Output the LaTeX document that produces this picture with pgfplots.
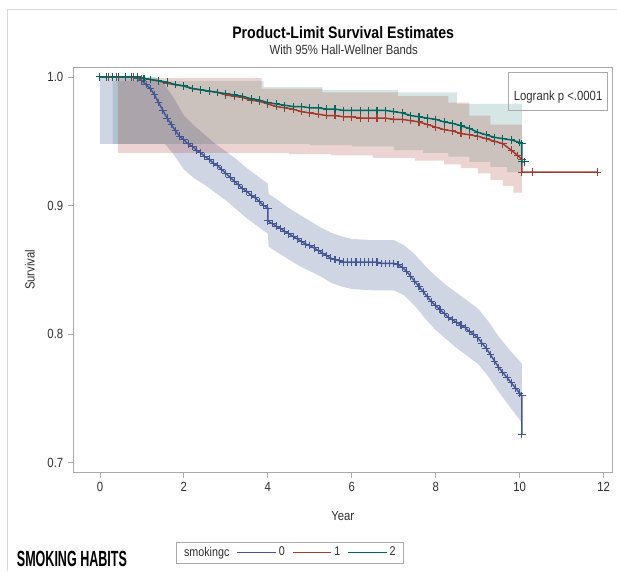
\documentclass[border=0pt]{standalone}
\usepackage{fontspec}
\setmainfont{Liberation Sans}[FakeStretch=0.85]
\newfontfamily\narrowfont{Liberation Sans}[FakeStretch=0.57]
\usepackage{pgfplots}
\pgfplotsset{compat=1.18}
\usepgfplotslibrary{fillbetween}
\definecolor{c0}{HTML}{445694}
\definecolor{c1}{HTML}{A23A2E}
\definecolor{c2}{HTML}{01665E}
\definecolor{frm}{HTML}{ABABAB}
\definecolor{txt}{HTML}{303030}
\begin{document}
\begin{tikzpicture}
\path (0,0) rectangle (462.75pt,428.25pt);
\draw[gray!30, line width=0.75pt] (5.5pt,0pt) -- (5.5pt,420.75pt) -- (462.75pt,420.75pt);
\begin{axis}[
  at={(54.75pt,73.5pt)}, anchor=south west,
  scale only axis, width=405pt, height=304.5pt,
  xmin=-0.643, xmax=12.21, ymin=0.6922, ymax=1.0078,
  axis line style={frm}, tick style={frm, line width=0.6pt},
  major tick length=3.75pt, tick align=outside,
  xtick pos=bottom, ytick pos=left,
  xtick={0,2,4,6,8,10,12}, ytick={0.7,0.8,0.9,1.0},
  yticklabel style={/pgf/number format/.cd, fixed, fixed zerofill, precision=1},
  /pgf/number format/assume math mode=true,
  ticklabel style={font=\fontsize{10}{12}\selectfont, text=txt},
  xlabel={Year}, ylabel={Survival},
  label style={font=\fontsize{10}{12}\selectfont, text=txt},
  xlabel style={at={(axis description cs:0.5,-0.108)}, anchor=center},
  ylabel style={at={(axis description cs:-0.08,0.5)}, anchor=center},
  legend style={at={(axis description cs:0.402,-0.197)}, anchor=center,
    draw=frm, fill=white, font=\fontsize{9.5}{11}\selectfont, text=txt,
    inner xsep=4pt, inner ysep=1.5pt,
    /tikz/every even column/.append style={column sep=3.5pt}},
  legend columns=4,
  legend image code/.code={\draw[#1] (0pt,0pt) -- (29pt,0pt);},
]
% ---- blue band (smokingc = 0)
\addplot[name path=bu, draw=none, forget plot] coordinates {
(0,1.0)(1.3,1.0)(1.5,0.996)(1.75,0.984)(2.0,0.970)(2.25,0.962)(2.5,0.955)(2.75,0.948)
(3.0,0.942)(3.25,0.936)(3.5,0.929)(3.75,0.923)(4.0,0.917)(4.02,0.909)(4.25,0.904)
(4.5,0.898)(4.75,0.893)(5.0,0.888)(5.25,0.883)(5.5,0.879)(5.75,0.876)(6.0,0.874)
(6.5,0.873)(7.0,0.873)(7.25,0.869)(7.5,0.862)(7.75,0.853)(8.0,0.845)(8.25,0.838)
(8.5,0.832)(8.75,0.826)(9.0,0.820)(9.25,0.810)(9.5,0.798)(9.75,0.788)(10.05,0.777)};
\addplot[name path=bl, draw=none, forget plot] coordinates {
(0,0.948)(1.55,0.948)(1.75,0.940)(2.0,0.928)(2.25,0.921)(2.5,0.916)(2.75,0.910)
(3.0,0.904)(3.25,0.897)(3.5,0.890)(3.75,0.884)(4.0,0.878)(4.02,0.868)(4.25,0.863)
(4.5,0.858)(4.75,0.853)(5.0,0.849)(5.25,0.845)(5.5,0.840)(5.75,0.837)(6.0,0.835)
(6.5,0.834)(7.0,0.834)(7.25,0.830)(7.5,0.822)(7.75,0.812)(8.0,0.803)(8.25,0.796)
(8.5,0.789)(8.75,0.783)(9.0,0.777)(9.25,0.767)(9.5,0.755)(9.75,0.744)(10.05,0.731)};
\addplot[c0, fill opacity=0.25, draw=none, forget plot] fill between[of=bu and bl];
% ---- green band (smokingc = 2)
\addplot[name path=gu, draw=none, const plot, forget plot] coordinates {
(0.3,0.997)(3.9,0.992)(5.3,0.990)(7.1,0.988)(8.5,0.979)(10.05,0.979)};
\addplot[name path=gl, draw=none, const plot, forget plot] coordinates {
(0.3,0.948)(5.0,0.947)(6.0,0.946)(7.0,0.943)(7.7,0.941)(8.3,0.938)(8.8,0.934)
(9.3,0.930)(9.7,0.926)(10.05,0.924)};
\addplot[c2, fill opacity=0.16, draw=none, forget plot] fill between[of=gu and gl];
% ---- red band (smokingc = 1)
\addplot[name path=ru, draw=none, const plot, forget plot] coordinates {
(0.43,0.999)(3.85,0.991)(5.3,0.988)(7.1,0.985)(8.3,0.980)(8.8,0.970)(9.3,0.963)(10.05,0.963)};
\addplot[name path=rl, draw=none, const plot, forget plot] coordinates {
(0.43,0.941)(4.5,0.940)(5.5,0.939)(6.5,0.937)(7.5,0.935)(8.2,0.932)(8.6,0.929)
(9.0,0.925)(9.3,0.920)(9.6,0.915)(9.85,0.910)(10.05,0.910)};
\addplot[c1, fill opacity=0.22, draw=none, forget plot] fill between[of=ru and rl];
% ---- survival curves
\pgfplotsset{km/.style={line width=1.1pt, mark=+, mark size=2.8pt, mark options={line width=0.8pt}, forget plot}}
\addplot[c0, km] coordinates {
(0,1.0)(0.2,1.0)(0.4,1.0)(0.6,1.0)(0.8,1.0)(0.9,0.999)(1.0,0.997)(1.1,0.994)(1.2,0.991)
(1.3,0.986)(1.4,0.980)(1.5,0.974)(1.6,0.968)(1.7,0.963)(1.8,0.958)(1.9,0.954)(2.0,0.951)
(2.1,0.948)(2.2,0.946)(2.3,0.943)(2.4,0.941)(2.5,0.938)(2.6,0.936)(2.7,0.933)(2.8,0.931)
(2.9,0.928)(3.0,0.925)(3.1,0.922)(3.2,0.919)(3.3,0.916)(3.4,0.913)(3.5,0.911)(3.6,0.908)
(3.7,0.906)(3.8,0.903)(3.9,0.900)(4.0,0.898)(4.0,0.888)(4.1,0.886)(4.2,0.884)(4.3,0.882)
(4.4,0.880)(4.5,0.878)(4.6,0.876)(4.7,0.874)(4.8,0.872)(4.9,0.870)(5.0,0.869)(5.1,0.867)
(5.2,0.865)(5.3,0.863)(5.4,0.861)(5.5,0.859)(5.6,0.858)(5.7,0.857)(5.8,0.856)(5.9,0.856)
(6.0,0.856)(6.1,0.856)(6.2,0.856)(6.3,0.856)(6.4,0.856)(6.5,0.856)(6.6,0.856)(6.7,0.855)
(6.8,0.855)(6.9,0.855)(7.0,0.855)(7.1,0.854)(7.2,0.852)(7.3,0.849)(7.4,0.845)(7.5,0.841)
(7.6,0.837)(7.7,0.833)(7.8,0.829)(7.9,0.825)(8.0,0.822)(8.1,0.819)(8.2,0.816)(8.3,0.813)
(8.4,0.811)(8.5,0.809)(8.6,0.807)(8.7,0.805)(8.8,0.802)(8.9,0.800)(9.0,0.797)(9.1,0.793)
(9.2,0.789)(9.3,0.784)(9.4,0.779)(9.5,0.774)(9.6,0.770)(9.7,0.766)(9.8,0.762)(9.9,0.758)
(10.0,0.754)(10.05,0.752)(10.05,0.722)};
\addplot[c1, km] coordinates {
(0,1.0)(0.2,1.0)(0.4,1.0)(0.6,1.0)(0.8,1.0)(1.0,0.999)(1.2,0.998)(1.4,0.997)(1.6,0.995)
(1.8,0.994)(2.0,0.993)(2.2,0.991)(2.4,0.990)(2.6,0.989)(2.8,0.988)(3.0,0.986)(3.2,0.985)
(3.4,0.984)(3.6,0.982)(3.8,0.981)(4.0,0.979)(4.2,0.977)(4.4,0.976)(4.6,0.975)(4.8,0.973)
(5.0,0.972)(5.2,0.971)(5.4,0.970)(5.6,0.970)(5.8,0.969)(6.0,0.969)(6.2,0.968)(6.4,0.968)
(6.6,0.968)(6.8,0.968)(7.0,0.967)(7.2,0.967)(7.4,0.966)(7.6,0.965)(7.8,0.963)(8.0,0.961)
(8.2,0.959)(8.4,0.958)(8.6,0.956)(8.8,0.955)(9.0,0.954)(9.2,0.952)(9.4,0.950)(9.6,0.948)
(9.8,0.943)(9.95,0.939)(10.05,0.936)(10.05,0.926)(10.3,0.926)(11.85,0.926)};
\addplot[c2, km] coordinates {
(0,1.0)(0.15,1.0)(0.3,1.0)(0.45,1.0)(0.6,1.0)(0.75,1.0)(0.9,1.0)(1.05,0.999)(1.2,0.998)
(1.4,0.997)(1.6,0.996)(1.8,0.994)(2.0,0.993)(2.2,0.991)(2.4,0.990)(2.6,0.989)(2.8,0.988)
(3.0,0.987)(3.2,0.986)(3.4,0.985)(3.6,0.983)(3.8,0.982)(4.0,0.980)(4.2,0.979)(4.4,0.978)
(4.6,0.977)(4.8,0.977)(5.0,0.976)(5.2,0.976)(5.4,0.975)(5.6,0.975)(5.8,0.974)(6.0,0.974)
(6.2,0.974)(6.4,0.974)(6.6,0.974)(6.8,0.974)(7.0,0.973)(7.2,0.972)(7.4,0.970)(7.6,0.969)
(7.8,0.968)(8.0,0.967)(8.2,0.965)(8.4,0.964)(8.6,0.962)(8.8,0.960)(9.0,0.957)(9.2,0.955)
(9.4,0.953)(9.6,0.952)(9.8,0.951)(10.0,0.949)(10.05,0.948)(10.05,0.934)(10.12,0.934)};
% ---- legend
\addlegendimage{empty legend}\addlegendentry{smokingc}
\addlegendimage{c0, line width=0.6pt}\addlegendentry{0}
\addlegendimage{c1, line width=0.6pt}\addlegendentry{1}
\addlegendimage{c2, line width=0.6pt}\addlegendentry{2}
\end{axis}
\node[text=black] at (257.6pt,403.5pt) {\bfseries\fontsize{12.5}{14}\selectfont Product-Limit Survival Estimates};
\node[text=txt] at (258pt,390.75pt) {\fontsize{10}{12}\selectfont With 95\% Hall-Wellner Bands};
\draw[frm, line width=0.6pt] (381.75pt,345.75pt) rectangle (456pt,374.25pt);
\node[text=txt] at (418.9pt,355.5pt) {\fontsize{10}{12}\selectfont Logrank p {<}.0001};
\node[anchor=base west, inner sep=0pt, text=black] at (12.5pt,3pt) {\narrowfont\bfseries\fontsize{16.5}{18}\selectfont SMOKING HABITS};
\end{tikzpicture}
\end{document}
